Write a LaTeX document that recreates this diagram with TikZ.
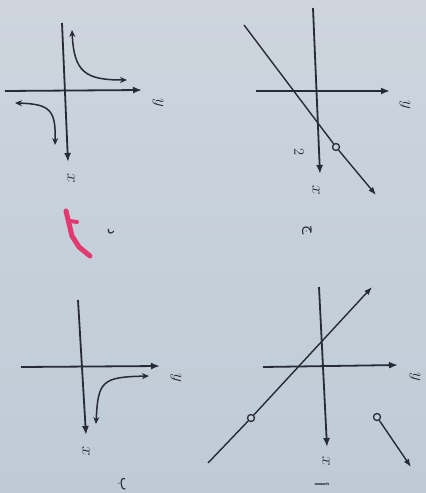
\documentclass[tikz,border=0pt]{standalone}
\usepackage{fontspec}
\newfontfamily\arabicfont[Script=Arabic]{DejaVu Sans}
\usetikzlibrary{arrows.meta}

\begin{document}
\begin{tikzpicture}[
    x=1pt, y=-1pt,
    % Styles
    axis/.style={
        -{Latex[length=9pt, width=7pt]},
        line width=1.8pt, color=inkgray
    },
    graph/.style={
        line width=1.4pt, color=inkgray
    },
    branch/.style={
        {Stealth[length=7pt, width=6pt]}-{Stealth[length=7pt, width=6pt]},
        line width=1.5pt, color=inkgray
    },
    ray/.style={
        -{Latex[length=8pt, width=6pt]},
        line width=1.4pt, color=inkgray
    },
    hole/.style={
        circle, draw=inkgray, fill=paper, line width=1.3pt,
        minimum size=7pt, inner sep=0pt
    },
    axlabel/.style={
        font=\LARGE, text=inkgray, rotate=-90, inner sep=0pt
    },
    choice/.style={
        font=\Large\arabicfont, text=inkgray, rotate=-90, inner sep=0pt
    },
]
% Define colors
\definecolor{inkgray}{RGB}{38,43,54}
\definecolor{paper}{RGB}{198,208,218}
\definecolor{papertop}{RGB}{206,213,221}
\definecolor{paperbot}{RGB}{190,203,215}
\definecolor{markpink}{RGB}{226,58,112}

% Page background
\shade[top color=papertop, bottom color=paperbot] (0,0) rectangle (426,493);
\useasboundingbox (0,0) rectangle (426,493);

% Top left: hyperbola
\coordinate (dTop) at (62,23);
\coordinate (dBot) at (68,162);
\coordinate (dLeft) at (5,91);
\coordinate (dRight) at (142,90);
\draw[axis] (dTop) -- (dBot);
\draw[axis] (dLeft) -- (dRight);
\node[axlabel] (dx) at (71,178) {$x$};
\node[axlabel] (dy) at (158,103) {$y$};
\draw[branch] (72,30) .. controls (74,72) and (85,80) .. (127,80);
\draw[branch] (15,103) .. controls (50,104) and (56,110) .. (55,145);
\node[choice] (dlab) at (111,232) {د};

% Top right: line with a hole
\coordinate (cTop) at (313,8);
\coordinate (cBot) at (320,174);
\coordinate (cLeft) at (256,91);
\coordinate (cRight) at (390,91);
\draw[axis] (cTop) -- (cBot);
\draw[axis] (cLeft) -- (cRight);
\node[axlabel] (cx) at (316,190) {$x$};
\node[axlabel] (cy) at (405,105) {$y$};
\node[hole] (chole) at (336,147) {};
\coordinate (cStart) at (244,25);
\coordinate (cEnd) at (376,195);
\draw[graph] (cStart) -- (chole);
\draw[ray] (chole) -- (cEnd);
\node[axlabel, font=\Large] (ctwo) at (299,152) {$2$};
\node[choice] (clab) at (307,230) {ج};

% Bottom left: one branch
\coordinate (bTop) at (78,300);
\coordinate (bBot) at (86,435);
\coordinate (bLeft) at (21,367);
\coordinate (bRight) at (160,366);
\draw[axis] (bTop) -- (bBot);
\draw[axis] (bLeft) -- (bRight);
\node[axlabel] (bx) at (86,451) {$x$};
\node[axlabel] (by) at (176,378) {$y$};
\draw[branch] (96,424) .. controls (98,381) and (102,377) .. (149,376);
\node[choice] (blab) at (122,484) {ب};

% Bottom right: line with a hole and a ray
\coordinate (aTop) at (319,287);
\coordinate (aBot) at (327,447);
\coordinate (aLeft) at (263,367);
\coordinate (aRight) at (398,365);
\draw[axis] (aTop) -- (aBot);
\draw[axis] (aLeft) -- (aRight);
\node[axlabel] (ax) at (326,461) {$x$};
\node[axlabel] (ay) at (415,377) {$y$};
\node[hole] (ahole) at (251,418) {};
\coordinate (aStart) at (208,463);
\coordinate (aEnd) at (372,287);
\draw[graph] (aStart) -- (ahole);
\draw[ray] (ahole) -- (aEnd);
\node[hole] (aopen) at (377,417) {};
\coordinate (aTip) at (411,467);
\draw[ray] (aopen) -- (aTip);
\node[choice] (alab) at (322,484) {أ};

% Pen mark
\draw[markpink, line width=5pt, line cap=round, line join=round]
    (66,211) -- (72,236) -- (79,247) -- (90,256);
\draw[markpink, line width=4pt, line cap=round] (70,221) -- (77,222);

\end{tikzpicture}
\end{document}
